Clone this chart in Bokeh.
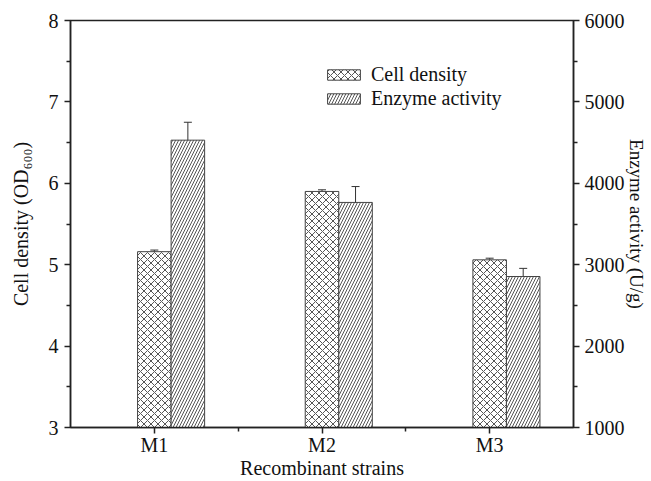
from bokeh.plotting import figure
from bokeh.models import (ColumnDataSource, Range1d, LinearAxis, FixedTicker,
                          Whisker, TeeHead, Legend, LegendItem)
from bokeh.embed import file_html
from bokeh.resources import INLINE

strains = ["M1", "M2", "M3"]
cell_density = [5.16, 5.90, 5.06]
cell_err = [0.02, 0.02, 0.02]
enzyme = [4530, 3765, 2855]
enzyme_err = [220, 195, 100]

pos = [1, 2, 3]
cell_x = [x for x in pos]
enz_x = [x + 0.2 for x in pos]

FONT = "Liberation Serif"

cell_src = ColumnDataSource(dict(x=cell_x, top=cell_density,
                                 upper=[v + e for v, e in zip(cell_density, cell_err)],
                                 lower=[v - e for v, e in zip(cell_density, cell_err)]))
enz_src = ColumnDataSource(dict(x=enz_x, top=enzyme,
                                upper=[v + e for v, e in zip(enzyme, enzyme_err)],
                                lower=[v - e for v, e in zip(enzyme, enzyme_err)]))

p = figure(width=651, height=481, output_backend="svg", toolbar_location=None,
           x_range=Range1d(0.5, 3.5), y_range=Range1d(3, 8),
           min_border_left=70, min_border_right=78, min_border_top=20,
           min_border_bottom=54)
p.extra_y_ranges = {"enz": Range1d(1000, 6000)}
p.xgrid.visible = False
p.ygrid.visible = False
p.outline_line_color = "#222222"
p.outline_line_width = 1.5
p.background_fill_color = "white"
p.border_fill_color = "white"

r1 = p.vbar(x="x", top="top", bottom=3, width=0.2, source=cell_src,
            fill_color="white", line_color="#444444", line_width=1,
            hatch_pattern="x", hatch_color="#555555", hatch_scale=7, hatch_weight=1)
r2 = p.vbar(x="x", top="top", bottom=1000, width=0.2, source=enz_src,
            y_range_name="enz",
            fill_color="white", line_color="#444444", line_width=1,
            hatch_pattern="/", hatch_color="#555555", hatch_scale=6, hatch_weight=1)

w1 = Whisker(source=cell_src, base="x", upper="upper", lower="lower",
             line_color="#333333", line_width=1,
             upper_head=TeeHead(size=8, line_color="#333333"),
             lower_head=TeeHead(size=8, line_color="#333333"))
w2 = Whisker(source=enz_src, base="x", upper="upper", lower="lower",
             y_range_name="enz", line_color="#333333", line_width=1,
             upper_head=TeeHead(size=8, line_color="#333333"),
             lower_head=TeeHead(size=8, line_color="#333333"))
p.add_layout(w1)
p.add_layout(w2)

# axes
xa = p.xaxis[0]
xa.ticker = FixedTicker(ticks=pos, minor_ticks=[1.5, 2.5])
xa.major_label_overrides = {1: "M1", 2: "M2", 3: "M3"}
xa.axis_label = "Recombinant strains"

ya = p.yaxis[0]
ya.ticker = FixedTicker(ticks=[3, 4, 5, 6, 7, 8],
                        minor_ticks=[3.5, 4.5, 5.5, 6.5, 7.5])
ya.axis_label = "Cell density (OD\u2086\u2080\u2080)"

ra = LinearAxis(y_range_name="enz", axis_label="Enzyme activity (U/g)")
ra.ticker = FixedTicker(ticks=[1000, 2000, 3000, 4000, 5000, 6000],
                        minor_ticks=[1500, 2500, 3500, 4500, 5500])
p.add_layout(ra, "right")

for ax in [xa, ya, ra]:
    ax.axis_line_color = "#222222"
    ax.axis_line_width = 1.5
    ax.major_tick_line_color = "#222222"
    ax.major_tick_line_width = 1.5
    ax.minor_tick_line_color = "#222222"
    ax.minor_tick_line_width = 1.5
    ax.major_tick_in = 0
    ax.major_tick_out = 6
    ax.minor_tick_in = 0
    ax.minor_tick_out = 4
    ax.major_label_text_font = FONT
    ax.major_label_text_font_size = "20px"
    ax.major_label_text_color = "#111111"
    ax.axis_label_text_font = FONT
    ax.axis_label_text_font_size = "20px"
    ax.axis_label_text_font_style = "normal"
    ax.axis_label_text_color = "#111111"
    ax.major_label_standoff = 6

ya.axis_label_standoff = 14
ra.major_label_standoff = 5
ra.axis_label_text_font_size = "19px"
ra.axis_label_standoff = -2
xa.major_label_standoff = 0
xa.axis_label_standoff = -2
ya.major_label_orientation = "horizontal"
ra.major_label_orientation = "horizontal"

legend = Legend(items=[LegendItem(label="Cell density", renderers=[r1]),
                       LegendItem(label="Enzyme activity", renderers=[r2])],
                location=(253, 317))
legend.label_text_font = FONT
legend.label_text_font_size = "20px"
legend.label_text_color = "#111111"
legend.glyph_width = 41
legend.glyph_height = 13
legend.label_height = 20
legend.spacing = 1
legend.padding = 0
legend.margin = 0
legend.label_standoff = 7
legend.border_line_color = None
legend.background_fill_alpha = 0
p.add_layout(legend)

open("out.html", "w").write(file_html(p, INLINE))
